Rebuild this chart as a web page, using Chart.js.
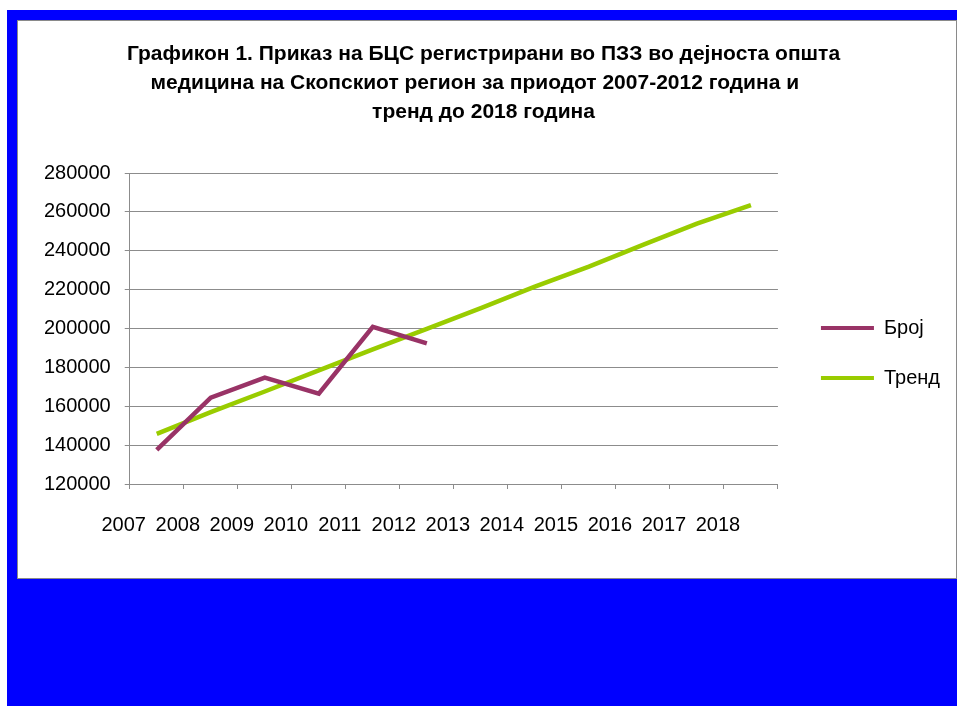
<!DOCTYPE html>
<html>
<head>
<meta charset="utf-8">
<script src="https://cdn.jsdelivr.net/npm/chart.js@4.4.1/dist/chart.umd.min.js"></script>
<style>
  html, body { margin: 0; padding: 0; background: #fff; }
  #frame {
    position: absolute; left: 7px; top: 10px;
    width: 950px; height: 696px;
    background: #0000ff;
  }
  #panel {
    position: absolute; left: 10px; top: 10px;
    width: 938px; height: 557px;
    background: #fff;
    border: 1px solid #8a8a8a;
  }
</style>
</head>
<body>
<div id="frame">
  <div id="panel"><canvas id="trendChart"></canvas></div>
</div>
<script>
// Years on the category axis
const years = ['2007', '2008', '2009', '2010', '2011', '2012',
               '2013', '2014', '2015', '2016', '2017', '2018'];
// Registered count, 2007-2012
const brojValues = [137500, 164400, 174700, 166500, 200800, 192300];
// Trend line out to 2018
const trendValues = [145800, 157000, 167600, 178500, 189300, 199800,
                     210500, 221500, 231800, 243000, 254000, 263500];
const yTicks = [120000, 140000, 160000, 180000, 200000, 220000, 240000, 260000, 280000];

const titleLines = [
    'Графикон 1. Приказ на БЦС регистрирани во ПЗЗ во дејноста општа',
    'медицина на Скопскиот регион за приодот 2007-2012 година и   ',
    'тренд до 2018 година'
];

const fontFamily = '"Liberation Sans", Arial, Helvetica, sans-serif';
const gridColor = '#8c8c8c';

// move the legend block right and down; widen its box so the labels aren't clipped
const legendNudge = {
    id: 'legendNudge',
    afterLayout(chart) {
        const lg = chart.legend;
        lg.left += 13;
        lg.top += 107;
        lg.right = chart.width;
        lg.bottom = chart.height;
    }
};

const ctx = document.getElementById('trendChart');
new Chart(ctx, {
    type: 'line',
    data: {
        labels: years,
        datasets: [{
            label: 'Број',
            data: brojValues,
            borderColor: '#993366',
            backgroundColor: '#993366',
            borderWidth: 4.5,
            pointRadius: 0,
            tension: 0
        }, {
            label: 'Тренд',
            data: trendValues,
            borderColor: '#99cc00',
            backgroundColor: '#99cc00',
            borderWidth: 4.5,
            pointRadius: 0,
            tension: 0
        }]
    },
    options: {
        responsive: true,
        maintainAspectRatio: false,
        animation: false,
        layout: {
            padding: { left: 12, right: 19, top: 0, bottom: 17 }
        },
        plugins: {
            title: {
                display: true,
                text: titleLines,
                color: '#000',
                font: { family: fontFamily, size: 21, weight: 'bold', lineHeight: '29px' },
                padding: { top: 19, bottom: 46 }
            },
            legend: {
                position: 'right',
                labels: {
                    color: '#000',
                    font: { family: fontFamily, size: 20 },
                    boxWidth: 53,
                    boxHeight: 4,
                    padding: 30,
                    generateLabels(chart) {
                        return chart.data.datasets.map((ds, i) => ({
                            text: ds.label,
                            fillStyle: ds.borderColor,
                            strokeStyle: ds.borderColor,
                            lineWidth: 0,
                            datasetIndex: i
                        }));
                    }
                }
            },
            tooltip: { enabled: false }
        },
        scales: {
            x: {
                offset: true,
                grid: {
                    offset: true,
                    drawOnChartArea: false,
                    drawTicks: true,
                    tickLength: 5,
                    color: gridColor
                },
                border: { color: gridColor },
                ticks: {
                    color: '#000',
                    font: { family: fontFamily, size: 20 },
                    padding: 24,
                    labelOffset: -33,
                    maxRotation: 0,
                    autoSkip: false
                }
            },
            y: {
                min: yTicks[0],
                max: yTicks[yTicks.length - 1],
                grid: { color: gridColor, tickLength: 5 },
                border: { color: gridColor },
                afterBuildTicks(scale) {
                    scale.ticks = yTicks.map(v => ({ value: v }));
                },
                ticks: {
                    color: '#000',
                    font: { family: fontFamily, size: 20 },
                    padding: 14,
                    callback: v => String(v)
                }
            }
        }
    },
    plugins: [legendNudge]
});
</script>
</body>
</html>
